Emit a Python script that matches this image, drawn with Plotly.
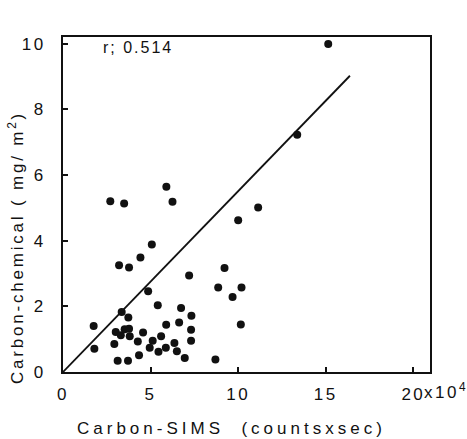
import plotly.graph_objects as go

sims = [15.14, 13.37, 11.14, 10.0, 5.90, 6.25, 2.70, 3.49, 5.07, 4.42, 3.20, 3.77, 7.20, 9.22,
        8.86, 10.19, 9.68, 4.86, 5.41, 6.74, 3.35, 3.73, 7.33, 1.75, 5.89, 6.63, 10.15, 3.01,
        3.30, 3.52, 3.77, 3.81, 4.57, 7.31, 5.60, 4.27, 5.12, 7.31, 1.79, 2.93, 4.95, 5.87,
        6.36, 5.45, 6.50, 4.34, 6.95, 3.12, 3.71, 8.70]
chem = [9.99, 7.22, 5.01, 4.62, 5.64, 5.18, 5.20, 5.13, 3.88, 3.49, 3.25, 3.18, 2.94, 3.17,
        2.57, 2.57, 2.28, 2.46, 2.03, 1.95, 1.83, 1.66, 1.71, 1.40, 1.44, 1.51, 1.45, 1.22,
        1.12, 1.30, 1.32, 1.09, 1.20, 1.29, 1.09, 0.93, 0.95, 0.95, 0.71, 0.85, 0.74, 0.74,
        0.88, 0.62, 0.63, 0.51, 0.43, 0.34, 0.34, 0.38]
fit_x = [0, 16.38]
fit_y = [0, 9.02]
x_ticks = [0, 5, 10, 15, 20]
x_ticklabels = ["0", "5", "10", "15", "20"]
y_ticks = [0, 2, 4, 6, 8, 10]

font = "Liberation Sans, Arial, sans-serif"
black = "#111111"

fig = go.Figure()
fig.add_trace(go.Scatter(x=fit_x, y=fit_y, mode="lines",
                         line=dict(color=black, width=1.8), showlegend=False))
fig.add_trace(go.Scatter(x=sims, y=chem, mode="markers",
                         marker=dict(color=black, size=8), showlegend=False))

fig.add_annotation(x=0.125, y=0.97, xref="paper", yref="paper", text="r; 0.514",
                   showarrow=False, xanchor="left", yanchor="middle",
                   font=dict(family=font, size=16, color=black))
fig.add_annotation(x=20, y=0, xref="x", yref="paper", text="x10<sup>4</sup>",
                   showarrow=False, xanchor="left", yanchor="top", xshift=14, yshift=-6,
                   font=dict(family=font, size=17, color=black))
fig.add_annotation(x=0.459, y=-0.170, xref="paper", yref="paper",
                   text="Carbon-SIMS  (countsxsec)", showarrow=False,
                   xanchor="center", yanchor="middle",
                   font=dict(family=font, size=17, color=black))
fig.add_annotation(x=-0.128, y=0.37, xref="paper", yref="paper",
                   text="Carbon-chemical ( mg/ m<sup>2</sup>)", showarrow=False,
                   xanchor="center", yanchor="middle", textangle=-90,
                   font=dict(family=font, size=17, color=black))

axis_common = dict(showgrid=False, zeroline=False, showline=True, linecolor=black,
                   linewidth=2, mirror=True, ticks="inside", ticklen=5, tickwidth=1.5,
                   tickcolor=black, automargin=False,
                   tickfont=dict(family=font, size=17, color=black))

fig.update_xaxes(range=[0, 20.95], tickvals=x_ticks, ticktext=x_ticklabels,
                 ticklabelstandoff=6, **axis_common)
fig.update_yaxes(range=[0, 10.2], tickvals=y_ticks, ticklabelstandoff=12, **axis_common)

fig.update_layout(width=467, height=439, margin=dict(l=63, r=37, t=37, b=67),
                  plot_bgcolor="white", paper_bgcolor="white")

post = """
document.body.style.margin='0';
document.querySelectorAll('.xtick text, .ytick text').forEach(function(e){e.style.letterSpacing='2.5px';});
document.querySelectorAll('.annotation-text').forEach(function(e){
  var t = e.textContent;
  if (t.indexOf('Carbon-SIMS') === 0) { e.style.letterSpacing='4px'; }
  else if (t.indexOf('Carbon') === 0) { e.style.letterSpacing='2.8px'; }
  else if (t.indexOf('r;') === 0) { e.style.letterSpacing='2px'; }
  else { e.style.letterSpacing='2.5px'; }
});
"""
fig.write_html("out.html", post_script=post, config={"displayModeBar": False})
